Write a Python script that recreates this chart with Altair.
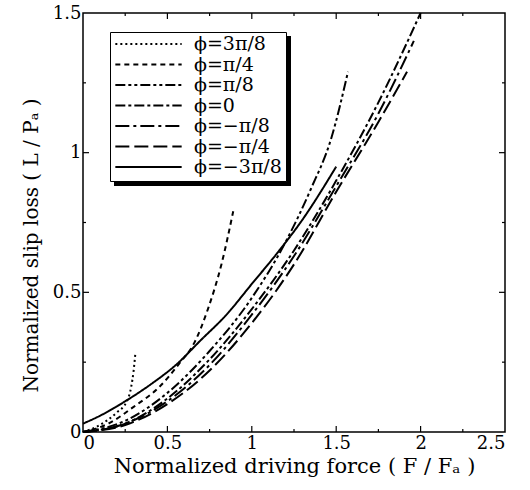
import altair as alt
import pandas as pd

# ---- data ----
series = ["ϕ=3π/8", "ϕ=π/4", "ϕ=π/8", "ϕ=0", "ϕ=−π/8", "ϕ=−π/4", "ϕ=−3π/8"]

x_p3 = [0, 0.1, 0.2, 0.26, 0.285, 0.30, 0.31]
y_p3 = [0, 0.025, 0.07, 0.11, 0.16, 0.22, 0.28]

x_p2 = [0, 0.15, 0.3, 0.45, 0.57, 0.66, 0.74, 0.82, 0.89]
y_p2 = [0, 0.03, 0.09, 0.16, 0.245, 0.32, 0.44, 0.60, 0.79]

x_p1 = [0, 0.25, 0.5, 0.75, 1.0, 1.2, 1.35, 1.47, 1.57]
y_p1 = [0, 0.04, 0.14, 0.29, 0.48, 0.68, 0.87, 1.05, 1.29]

x_0 = [0, 0.25, 0.5, 0.75, 1.0, 1.25, 1.5, 1.75, 2.0]
y_0 = [0, 0.03, 0.12, 0.26, 0.44, 0.65, 0.90, 1.18, 1.50]

x_m1 = [0, 0.25, 0.5, 0.75, 1.0, 1.25, 1.5, 1.75, 1.96]
y_m1 = [0, 0.03, 0.11, 0.24, 0.42, 0.63, 0.88, 1.14, 1.40]

x_m2 = [0, 0.25, 0.5, 0.75, 1.0, 1.25, 1.5, 1.75, 1.92]
y_m2 = [0, 0.025, 0.10, 0.22, 0.39, 0.60, 0.86, 1.11, 1.29]

x_m3 = [0, 0.1, 0.25, 0.4, 0.55, 0.7, 0.85, 1.0, 1.15, 1.3, 1.5]
y_m3 = [0.03, 0.058, 0.11, 0.17, 0.24, 0.33, 0.42, 0.53, 0.64, 0.76, 0.95]

xs_all = [x_p3, x_p2, x_p1, x_0, x_m1, x_m2, x_m3]
ys_all = [y_p3, y_p2, y_p1, y_0, y_m1, y_m2, y_m3]

dashes = [[2, 3], [5, 4], [10, 3, 3, 3, 3, 3], [10, 3, 3, 3], [14, 4, 3, 4], [14, 5], [1, 0]]

x_major = [0.5, 1, 1.5, 2]
x_minor = [0.25, 0.75, 1.25, 1.75, 2.25]
y_major = [0.5, 1]
y_minor = [0.25, 0.75, 1.25]

rows = []
for name, xs, ys in zip(series, xs_all, ys_all):
    for i, (a, b) in enumerate(zip(xs, ys)):
        rows.append({"series": name, "F": a, "L": b, "order": i})
df = pd.DataFrame(rows)

W, H = 422, 419
FONT = "DejaVu Serif"
xscale = alt.Scale(domain=[0, 2.5], nice=False, zero=False)
yscale = alt.Scale(domain=[0, 1.5], nice=False, zero=False)

lines = alt.Chart(df).mark_line(strokeWidth=2, color="black", interpolate="monotone").encode(
    x=alt.X("F:Q", scale=xscale,
            axis=alt.Axis(values=[0, 0.5, 1, 1.5, 2, 2.5], format="~g", ticks=False, domain=False,
                          grid=False, labelFont=FONT, labelFontSize=18, labelColor="black",
                          labelPadding=2, title="Normalized driving force ( F / Fₐ )",
                          titleFont=FONT, titleFontSize=21, titleFontWeight="normal",
                          titleColor="black", titlePadding=3)),
    y=alt.Y("L:Q", scale=yscale,
            axis=alt.Axis(values=[0, 0.5, 1, 1.5], format="~g", ticks=False, domain=False,
                          grid=False, labelFont=FONT, labelFontSize=18, labelColor="black",
                          labelPadding=2, title="Normalized slip loss ( L / Pₐ )",
                          titleFont=FONT, titleFontSize=20, titleFontWeight="normal",
                          titleColor="black", titlePadding=11, titleY=232)),
    strokeDash=alt.StrokeDash("series:N", sort=series,
                              scale=alt.Scale(domain=series, range=dashes),
                              legend=alt.Legend(title=None, orient="none", legendX=27, legendY=19,
                                                symbolType="stroke", symbolSize=4400,
                                                symbolStrokeWidth=2, symbolStrokeColor="black",
                                                clipHeight=16,
                                                labelFont=FONT, labelFontSize=19, labelColor="black",
                                                labelOffset=11,
                                                padding=4, strokeColor="black", fillColor="white",
                                                rowPadding=1.5)),
    order="order:Q",
)

def xticks(vals, length, top):
    d = pd.DataFrame({"F": vals})
    if top:
        return alt.Chart(d).mark_rule(color="black", strokeWidth=1.2).encode(
            x=alt.X("F:Q", scale=xscale), y=alt.value(0), y2=alt.value(length))
    return alt.Chart(d).mark_rule(color="black", strokeWidth=1.2).encode(
        x=alt.X("F:Q", scale=xscale), y=alt.value(H), y2=alt.value(H - length))

def yticks(vals, length, right):
    d = pd.DataFrame({"L": vals})
    if right:
        return alt.Chart(d).mark_rule(color="black", strokeWidth=1.2).encode(
            y=alt.Y("L:Q", scale=yscale), x=alt.value(W), x2=alt.value(W - length))
    return alt.Chart(d).mark_rule(color="black", strokeWidth=1.2).encode(
        y=alt.Y("L:Q", scale=yscale), x=alt.value(0), x2=alt.value(length))

tick_layers = [xticks(x_major, 6, False), xticks(x_minor, 3, False),
               xticks(x_major, 6, True), xticks(x_minor, 3, True),
               yticks(y_major, 6, False), yticks(y_minor, 3, False),
               yticks(y_major, 6, True), yticks(y_minor, 3, True)]

# drop shadow behind the legend box
shadow = alt.Chart(pd.DataFrame({"k": [0]})).mark_rect(color="black").encode(
    x=alt.value(31), x2=alt.value(208), y=alt.value(23), y2=alt.value(173))

chart = alt.layer(lines, *tick_layers, shadow).properties(
    width=W, height=H,
    autosize=alt.AutoSizeParams(type="none"),
    padding={"left": 83, "top": 13, "right": 25, "bottom": 58},
    background="white",
).configure_view(stroke="black", strokeWidth=1.5)

chart.save("out.html", embed_options={"renderer": "svg", "actions": False})
